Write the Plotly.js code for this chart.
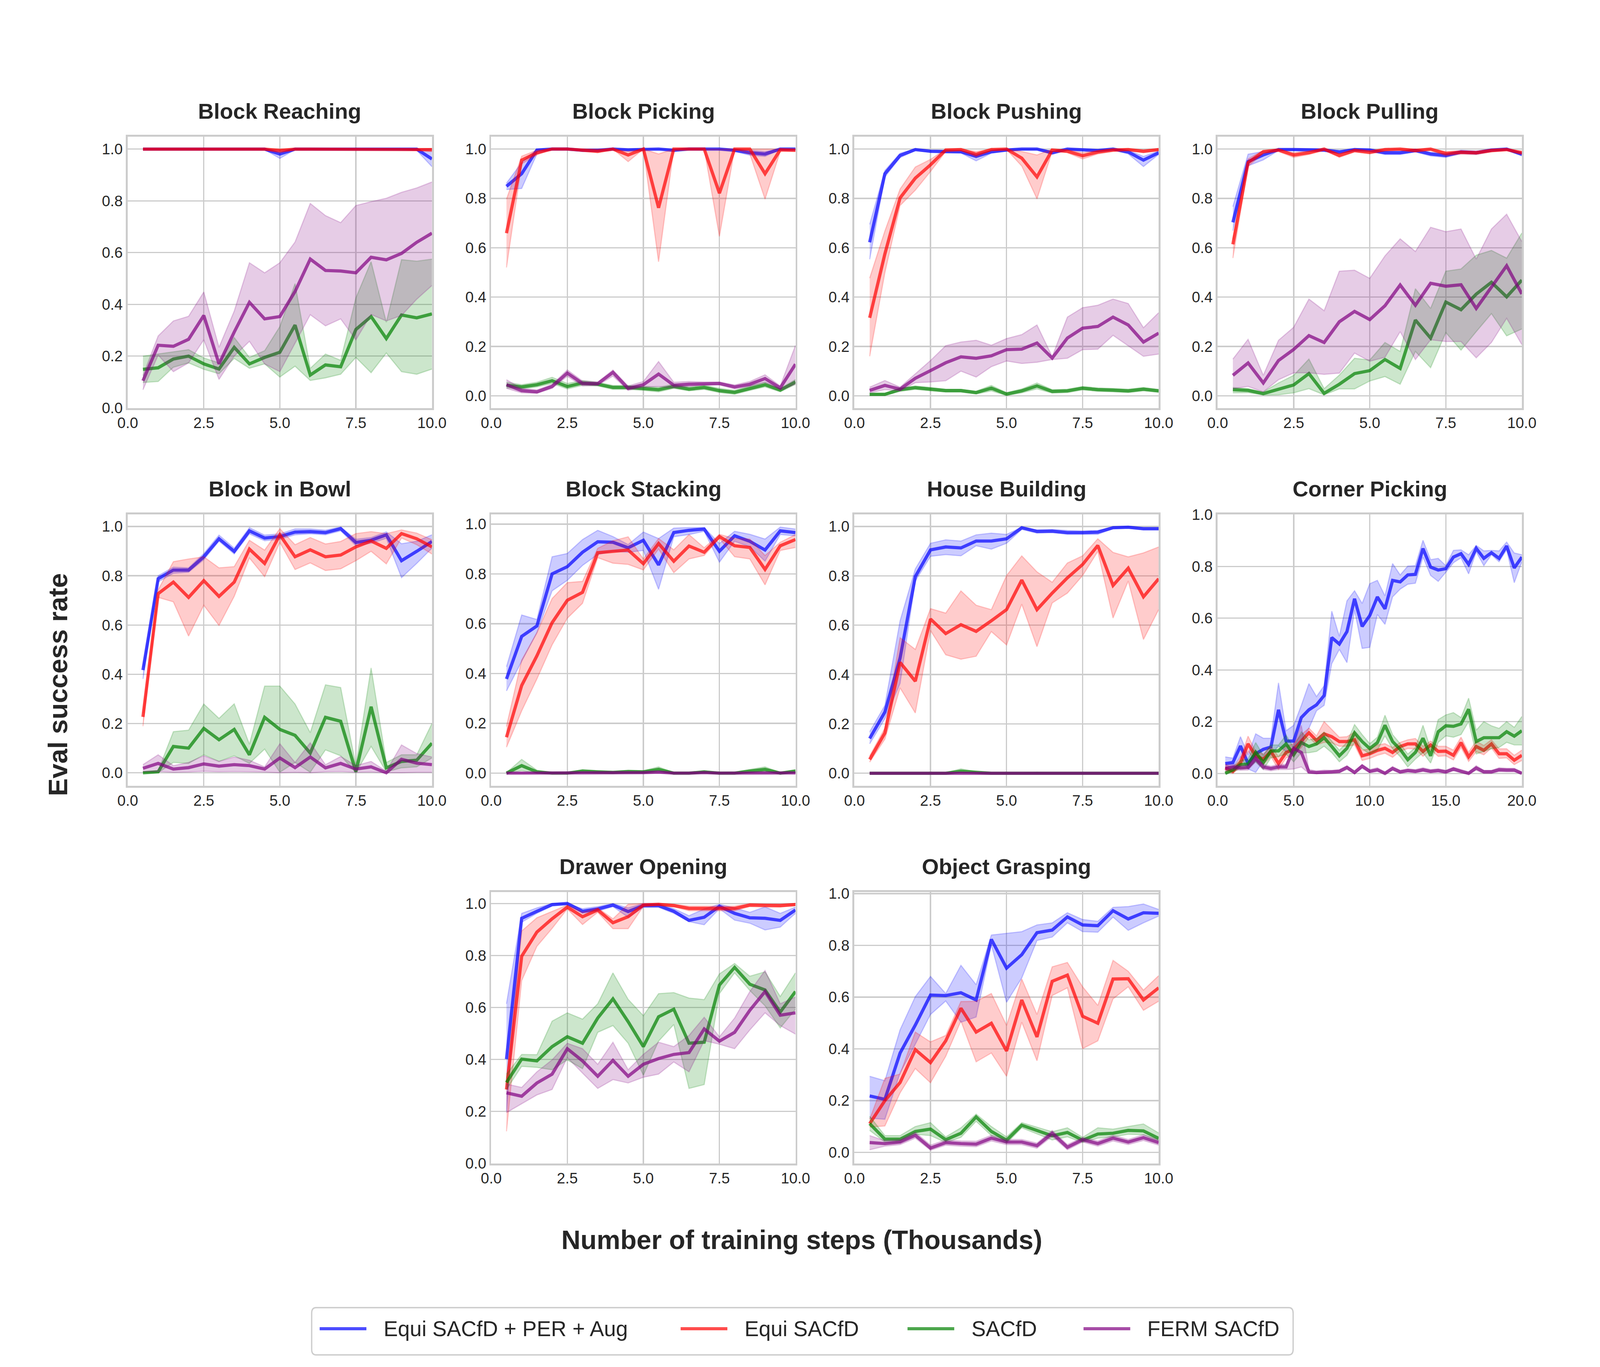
<!DOCTYPE html>
<html><head><meta charset="utf-8">
<script src="https://cdn.plot.ly/plotly-3.0.1.min.js"></script>
<style>html,body{margin:0;padding:0;background:#fff;overflow:hidden}</style>
</head><body><div id="chart"></div>
<script>
const methods = ['Equi SACfD + PER + Aug', 'Equi SACfD', 'SACfD', 'FERM SACfD'];
const lineColors = ['rgba(0,0,255,0.7)', 'rgba(255,0,0,0.7)', 'rgba(0,128,0,0.7)', 'rgba(128,0,128,0.7)'];
const bandColors = ['rgba(0,0,255,0.2)', 'rgba(255,0,0,0.2)', 'rgba(0,128,0,0.2)', 'rgba(128,0,128,0.2)'];
const taskTitles = ['Block Reaching', 'Block Picking', 'Block Pushing', 'Block Pulling', 'Block in Bowl', 'Block Stacking', 'House Building', 'Corner Picking', 'Drawer Opening', 'Object Grasping'];
const steps10 = [0.5,1.0,1.5,2.0,2.5,3.0,3.5,4.0,4.5,5.0,5.5,6.0,6.5,7.0,7.5,8.0,8.5,9.0,9.5,10.0];
const steps20 = [0.5,1.0,1.5,2.0,2.5,3.0,3.5,4.0,4.5,5.0,5.5,6.0,6.5,7.0,7.5,8.0,8.5,9.0,9.5,10.0,10.5,11.0,11.5,12.0,12.5,13.0,13.5,14.0,14.5,15.0,15.5,16.0,16.5,17.0,17.5,18.0,18.5,19.0,19.5,20.0];

// Block Reaching
const reach_per_m  = [1,1,1,1,1,1,1,1,1,0.981,1,1,1,1,1,1,1,1,1,0.962];
const reach_per_hi = [1,1,1,1,1,1,1,1,1,0.995,1,1,1,1,1,1,1,1,1,1];
const reach_per_lo = [1,1,1,1,1,1,1,1,0.998,0.964,0.998,1,1,1,1,1,1,1,0.995,0.932];
const reach_equi_m  = [1,1,1,1,1,1,1,1,1,0.995,1,1,1,1,1,1,1,1,1,0.998];
const reach_equi_hi = [1,1,1,1,1,1,1,1,1,1,1,1,1,1,1,1,1,1,1,1.003];
const reach_equi_lo = [1,1,1,1,1,1,1,1,0.998,0.985,0.998,1,1,1,1,1,1,1,0.995,0.99];
const reach_sac_m  = [0.149,0.155,0.189,0.2,0.17,0.15,0.234,0.17,0.195,0.215,0.32,0.127,0.166,0.159,0.303,0.353,0.268,0.359,0.348,0.363];
const reach_sac_hi = [0.2,0.208,0.217,0.225,0.193,0.174,0.272,0.195,0.221,0.314,0.48,0.153,0.208,0.184,0.425,0.565,0.331,0.573,0.567,0.575];
const reach_sac_lo = [0.098,0.102,0.157,0.174,0.149,0.132,0.191,0.153,0.17,0.119,0.161,0.106,0.116,0.13,0.195,0.136,0.212,0.14,0.13,0.15];
const reach_ferm_m  = [0.105,0.242,0.238,0.265,0.357,0.17,0.293,0.408,0.344,0.353,0.45,0.575,0.531,0.529,0.522,0.582,0.572,0.597,0.64,0.675];
const reach_ferm_hi = [0.125,0.278,0.336,0.354,0.448,0.234,0.374,0.561,0.522,0.561,0.641,0.79,0.743,0.716,0.782,0.797,0.81,0.833,0.85,0.873];
const reach_ferm_lo = [0.07,0.204,0.14,0.174,0.263,0.11,0.2,0.257,0.17,0.14,0.25,0.36,0.317,0.344,0.263,0.361,0.336,0.357,0.42,0.473];

// Block Picking
const pick_per_m  = [0.849,0.9,0.996,1,1,0.995,0.995,1,0.997,1,1,0.995,1,1,1,0.995,0.985,0.98,1,1];
const pick_per_hi = [0.862,0.945,1,1,1,1,1,1,1,1,1,1,1,1,1,1,0.995,0.99,1,1];
const pick_per_lo = [0.836,0.84,0.98,0.998,0.998,0.99,0.99,0.998,0.993,0.998,0.998,0.99,0.998,0.998,0.998,0.99,0.975,0.97,0.998,0.998];
const pick_equi_m  = [0.659,0.955,0.985,1,1,0.995,0.991,1,0.976,1,0.762,1,1,1,0.821,1,1,0.9,0.997,0.995];
const pick_equi_hi = [0.797,0.971,0.995,1,1,1,1,1,0.99,1,0.98,1,1,1,1,1,1,1,1,1];
const pick_equi_lo = [0.52,0.94,0.976,1,1,0.99,0.985,1,0.949,1,0.543,1,1,1,0.646,1,0.98,0.797,0.99,0.99];
const pick_sac_m  = [0.043,0.036,0.045,0.061,0.038,0.052,0.047,0.034,0.034,0.03,0.025,0.038,0.027,0.034,0.021,0.014,0.03,0.045,0.023,0.056];
const pick_sac_hi = [0.055,0.045,0.055,0.075,0.05,0.062,0.055,0.042,0.042,0.038,0.035,0.047,0.036,0.043,0.03,0.022,0.04,0.055,0.03,0.066];
const pick_sac_lo = [0.032,0.028,0.036,0.05,0.028,0.042,0.04,0.026,0.026,0.022,0.016,0.03,0.02,0.026,0.013,0.006,0.022,0.036,0.016,0.046];
const pick_ferm_m  = [0.045,0.021,0.016,0.038,0.092,0.05,0.049,0.095,0.03,0.045,0.088,0.043,0.047,0.05,0.05,0.036,0.047,0.07,0.032,0.128];
const pick_ferm_hi = [0.065,0.03,0.024,0.046,0.105,0.06,0.056,0.105,0.04,0.058,0.139,0.055,0.058,0.056,0.056,0.044,0.058,0.085,0.04,0.204];
const pick_ferm_lo = [0.03,0.012,0.01,0.03,0.079,0.04,0.042,0.08,0.022,0.035,0.038,0.032,0.038,0.044,0.044,0.028,0.038,0.055,0.024,0.047];

// Block Pushing
const push_per_m  = [0.622,0.9,0.974,0.998,0.991,0.989,0.989,0.97,0.989,0.996,1,1,0.985,1,0.996,0.994,1,0.988,0.955,0.985];
const push_per_hi = [0.695,0.913,0.983,1,0.996,0.994,0.994,0.98,0.995,1,1,1,0.992,1,1,0.998,1,0.995,0.97,0.992];
const push_per_lo = [0.553,0.887,0.965,0.994,0.986,0.984,0.984,0.952,0.983,0.992,0.996,0.996,0.978,0.996,0.992,0.99,0.996,0.98,0.929,0.978];
const push_equi_m  = [0.316,0.575,0.802,0.882,0.936,0.996,0.998,0.979,0.998,1,0.963,0.887,0.996,0.991,0.973,0.988,0.996,0.998,0.991,0.998];
const push_equi_hi = [0.477,0.668,0.838,0.927,0.958,1,1,0.99,1,1,0.99,0.976,1,0.997,0.985,0.995,1,1,0.997,1];
const push_equi_lo = [0.16,0.499,0.771,0.833,0.909,0.99,0.994,0.968,0.994,0.998,0.931,0.798,0.99,0.985,0.96,0.98,0.99,0.994,0.985,0.994];
const push_sac_m  = [0.006,0.006,0.025,0.033,0.027,0.021,0.021,0.013,0.031,0.007,0.02,0.04,0.018,0.02,0.031,0.025,0.023,0.02,0.027,0.02];
const push_sac_hi = [0.01,0.01,0.032,0.04,0.034,0.027,0.027,0.019,0.042,0.013,0.028,0.052,0.025,0.027,0.038,0.032,0.03,0.027,0.034,0.026];
const push_sac_lo = [0.002,0.002,0.018,0.026,0.02,0.015,0.015,0.007,0.02,0.001,0.012,0.028,0.011,0.013,0.024,0.018,0.016,0.013,0.02,0.014];
const push_ferm_m  = [0.022,0.042,0.027,0.071,0.102,0.134,0.158,0.152,0.162,0.187,0.189,0.214,0.153,0.234,0.274,0.281,0.319,0.287,0.218,0.254];
const push_ferm_hi = [0.035,0.062,0.035,0.089,0.143,0.203,0.218,0.225,0.205,0.232,0.248,0.287,0.159,0.319,0.357,0.367,0.392,0.374,0.276,0.337];
const push_ferm_lo = [0.012,0.025,0.02,0.053,0.056,0.061,0.1,0.076,0.118,0.141,0.131,0.136,0.147,0.152,0.187,0.189,0.245,0.202,0.16,0.169];

// Block Pulling
const pull_per_m  = [0.703,0.949,0.976,0.998,0.998,0.996,0.996,0.988,0.998,0.996,0.985,0.985,0.994,0.98,0.974,0.988,0.985,0.996,1,0.979];
const pull_per_hi = [0.767,0.979,0.99,1,1,1,1,0.995,1,1,0.992,0.992,1,0.987,0.982,0.995,0.992,1,1,0.986];
const pull_per_lo = [0.669,0.932,0.956,0.994,0.994,0.99,0.99,0.98,0.994,0.99,0.978,0.978,0.988,0.972,0.966,0.981,0.978,0.99,0.995,0.972];
const pull_equi_m  = [0.614,0.945,0.989,0.996,0.976,0.985,1,0.974,0.994,0.987,0.998,1,0.994,1,0.982,0.987,0.985,0.994,0.998,0.985];
const pull_equi_hi = [0.634,0.96,0.995,1,0.985,0.992,1,0.982,1,0.994,1,1,1,1,0.99,0.994,0.992,1,1,0.992];
const pull_equi_lo = [0.558,0.93,0.982,0.99,0.966,0.978,0.995,0.966,0.988,0.98,0.992,0.995,0.988,0.994,0.972,0.98,0.978,0.988,0.993,0.978];
const pull_sac_m  = [0.025,0.022,0.009,0.025,0.044,0.09,0.01,0.047,0.09,0.102,0.147,0.111,0.307,0.234,0.38,0.349,0.412,0.46,0.401,0.469];
const pull_sac_hi = [0.034,0.029,0.016,0.052,0.083,0.149,0.029,0.084,0.152,0.145,0.216,0.18,0.434,0.354,0.505,0.514,0.57,0.589,0.558,0.66];
const pull_sac_lo = [0.012,0.013,0.003,0.004,0.012,0.029,0.004,0.028,0.028,0.06,0.078,0.047,0.18,0.114,0.256,0.185,0.26,0.333,0.243,0.271];
const pull_ferm_m  = [0.083,0.133,0.052,0.143,0.188,0.244,0.216,0.3,0.342,0.309,0.365,0.449,0.367,0.456,0.444,0.45,0.354,0.443,0.527,0.413];
const pull_ferm_hi = [0.149,0.229,0.083,0.225,0.278,0.392,0.345,0.505,0.509,0.476,0.567,0.636,0.585,0.683,0.665,0.676,0.554,0.676,0.736,0.625];
const pull_ferm_lo = [0.029,0.038,0.016,0.065,0.093,0.093,0.087,0.092,0.173,0.14,0.156,0.26,0.147,0.227,0.22,0.22,0.154,0.216,0.314,0.207];

// Block in Bowl
const bowl_per_m  = [0.417,0.788,0.823,0.823,0.877,0.95,0.899,0.982,0.953,0.959,0.977,0.979,0.975,0.991,0.935,0.944,0.966,0.861,0.899,0.939];
const bowl_per_hi = [0.43,0.8,0.835,0.832,0.89,0.965,0.912,0.995,0.965,0.97,0.99,0.99,0.985,0.998,0.948,0.955,0.978,0.93,0.94,0.966];
const bowl_per_lo = [0.381,0.775,0.81,0.814,0.865,0.94,0.888,0.97,0.942,0.948,0.966,0.97,0.966,0.982,0.922,0.932,0.952,0.792,0.85,0.912];
const bowl_equi_m  = [0.227,0.727,0.774,0.712,0.78,0.716,0.774,0.908,0.85,0.966,0.877,0.905,0.877,0.884,0.917,0.941,0.911,0.971,0.95,0.917];
const bowl_equi_hi = [0.243,0.743,0.857,0.868,0.877,0.832,0.837,0.944,0.904,0.991,0.926,0.955,0.929,0.939,0.971,0.979,0.971,0.986,0.973,0.946];
const bowl_equi_lo = [0.189,0.712,0.694,0.555,0.68,0.598,0.716,0.872,0.796,0.935,0.825,0.852,0.821,0.828,0.861,0.899,0.848,0.953,0.926,0.888];
const bowl_sac_m  = [0,0.004,0.107,0.1,0.18,0.134,0.176,0.073,0.225,0.176,0.152,0.08,0.225,0.209,0.004,0.268,0.02,0.046,0.051,0.12];
const bowl_sac_hi = [0.003,0.008,0.167,0.173,0.279,0.221,0.28,0.116,0.352,0.352,0.279,0.163,0.357,0.346,0.029,0.426,0.042,0.073,0.073,0.2];
const bowl_sac_lo = [0,0,0.042,0.038,0.073,0.046,0.069,0.038,0.096,0.002,0.042,0.002,0.093,0.069,0,0.107,0.004,0.02,0.024,0.06];
const bowl_ferm_m  = [0.018,0.038,0.015,0.021,0.036,0.027,0.033,0.029,0.015,0.06,0.021,0.064,0.02,0.038,0.015,0.024,0,0.055,0.039,0.033];
const bowl_ferm_hi = [0.033,0.073,0.029,0.042,0.069,0.046,0.064,0.051,0.024,0.118,0.042,0.122,0.033,0.066,0.029,0.046,0.006,0.113,0.078,0.064];
const bowl_ferm_lo = [0.005,0.005,0.002,0.003,0.006,0.004,0.005,0.004,0.003,0,0.002,0,0.004,0.005,0.002,0.003,0,0,0.002,0.002];

// Block Stacking
const stack_per_m  = [0.378,0.549,0.591,0.8,0.829,0.887,0.929,0.927,0.905,0.935,0.836,0.966,0.975,0.98,0.891,0.953,0.931,0.896,0.973,0.966];
const stack_per_hi = [0.427,0.635,0.617,0.869,0.882,0.938,0.975,0.95,0.918,0.968,0.942,0.984,0.986,0.986,0.922,0.971,0.959,0.94,0.988,0.98];
const stack_per_lo = [0.33,0.449,0.564,0.732,0.774,0.834,0.878,0.891,0.887,0.894,0.738,0.949,0.958,0.971,0.847,0.931,0.909,0.851,0.958,0.953];
const stack_equi_m  = [0.144,0.352,0.471,0.604,0.694,0.726,0.885,0.891,0.896,0.841,0.922,0.851,0.912,0.887,0.95,0.913,0.906,0.818,0.913,0.938];
const stack_equi_hi = [0.188,0.454,0.564,0.701,0.765,0.77,0.903,0.933,0.949,0.86,0.942,0.897,0.958,0.905,0.959,0.942,0.94,0.874,0.927,0.958];
const stack_equi_lo = [0.104,0.25,0.378,0.515,0.622,0.682,0.865,0.843,0.838,0.816,0.9,0.805,0.86,0.874,0.942,0.869,0.86,0.756,0.894,0.906];
const stack_sac_m  = [0,0.03,0.005,0,0,0.008,0.005,0.003,0.006,0.005,0.015,0,0,0.005,0,0,0.008,0.015,0,0.008];
const stack_sac_hi = [0.002,0.055,0.012,0.002,0.002,0.014,0.01,0.007,0.012,0.01,0.025,0.002,0.002,0.01,0.002,0.004,0.015,0.025,0.003,0.014];
const stack_sac_lo = [0,0.01,0,0,0,0.002,0,0,0,0,0.005,0,0,0,0,0,0.002,0.006,0,0.002];
const stack_ferm_m  = [0,0,0,0,0,0.002,0.002,0.002,0.002,0.002,0.004,0,0,0.002,0,0,0.002,0.003,0,0.001];
const stack_ferm_hi = [0.002,0.002,0.002,0.002,0.002,0.005,0.005,0.004,0.004,0.004,0.008,0.002,0.002,0.004,0.002,0.002,0.004,0.006,0.002,0.003];
const stack_ferm_lo = [0,0,0,0,0,0,0,0,0,0,0,0,0,0,0,0,0,0,0,0];

// House Building
const house_per_m  = [0.141,0.248,0.467,0.797,0.905,0.917,0.913,0.941,0.941,0.95,0.995,0.98,0.981,0.975,0.975,0.977,0.995,0.997,0.991,0.991];
const house_per_hi = [0.168,0.275,0.618,0.828,0.932,0.946,0.941,0.966,0.973,0.968,0.997,0.986,0.988,0.984,0.982,0.984,0.997,1,0.995,0.995];
const house_per_lo = [0.119,0.221,0.364,0.779,0.879,0.886,0.881,0.922,0.908,0.932,0.988,0.973,0.975,0.968,0.968,0.968,0.991,0.993,0.986,0.986];
const house_equi_m  = [0.056,0.163,0.449,0.373,0.625,0.566,0.602,0.575,0.618,0.663,0.783,0.663,0.73,0.792,0.846,0.923,0.761,0.831,0.715,0.788];
const house_equi_hi = [0.07,0.183,0.549,0.502,0.667,0.649,0.739,0.681,0.663,0.801,0.881,0.816,0.774,0.852,0.881,0.95,0.895,0.877,0.893,0.917];
const house_equi_lo = [0.045,0.138,0.346,0.244,0.578,0.48,0.462,0.474,0.574,0.52,0.685,0.513,0.69,0.73,0.801,0.899,0.629,0.779,0.542,0.663];
const house_sac_m  = [0,0,0,0,0,0,0.008,0.003,0,0,0,0.002,0,0,0,0,0,0,0,0];
const house_sac_hi = [0,0,0,0,0,0.002,0.018,0.006,0.001,0,0,0.004,0,0,0,0,0,0,0,0];
const house_sac_lo = [0,0,0,0,0,0,0,0,0,0,0,0,0,0,0,0,0,0,0,0];
const house_ferm_m  = [0,0,0,0,0,0,0.002,0,0,0,0,0,0,0,0,0,0,0,0,0];
const house_ferm_hi = [0,0,0,0,0,0,0.005,0.001,0,0,0,0,0,0,0,0,0,0,0,0];
const house_ferm_lo = [0,0,0,0,0,0,0,0,0,0,0,0,0,0,0,0,0,0,0,0];

// Corner Picking (20k steps)
const corner_per_m  = [0.038,0.042,0.106,0.038,0.076,0.093,0.102,0.246,0.125,0.125,0.216,0.246,0.265,0.301,0.525,0.5,0.548,0.675,0.568,0.61,0.682,0.636,0.746,0.74,0.767,0.769,0.869,0.797,0.786,0.791,0.836,0.849,0.808,0.87,0.831,0.853,0.831,0.879,0.794,0.836];
const corner_per_hi = [0.064,0.059,0.142,0.072,0.153,0.136,0.136,0.35,0.165,0.186,0.263,0.347,0.297,0.339,0.627,0.53,0.667,0.706,0.657,0.733,0.746,0.686,0.811,0.767,0.801,0.803,0.901,0.826,0.831,0.803,0.862,0.864,0.845,0.881,0.86,0.862,0.86,0.894,0.852,0.845];
const corner_per_lo = [0.021,0.025,0.064,0.017,0.004,0.047,0.072,0.106,0.085,0.076,0.123,0.174,0.242,0.263,0.424,0.479,0.428,0.631,0.483,0.487,0.614,0.576,0.682,0.712,0.731,0.735,0.836,0.765,0.742,0.777,0.814,0.833,0.771,0.856,0.803,0.845,0.818,0.864,0.737,0.818];
const corner_equi_m  = [0.021,0.008,0.042,0.114,0.068,0.055,0.085,0.038,0.081,0.093,0.125,0.157,0.127,0.153,0.142,0.123,0.123,0.13,0.068,0.076,0.089,0.097,0.081,0.104,0.114,0.114,0.085,0.11,0.085,0.086,0.07,0.119,0.064,0.104,0.089,0.114,0.076,0.076,0.051,0.07];
const corner_equi_hi = [0.035,0.02,0.06,0.144,0.085,0.075,0.105,0.065,0.105,0.115,0.15,0.175,0.145,0.2,0.17,0.14,0.142,0.16,0.09,0.095,0.11,0.115,0.1,0.12,0.13,0.135,0.105,0.125,0.105,0.105,0.09,0.14,0.082,0.125,0.108,0.13,0.095,0.095,0.07,0.09];
const corner_equi_lo = [0.008,0,0.025,0.085,0.05,0.035,0.065,0.015,0.06,0.07,0.1,0.14,0.11,0.12,0.118,0.105,0.105,0.11,0.05,0.058,0.07,0.078,0.062,0.086,0.096,0.094,0.066,0.092,0.066,0.068,0.052,0.1,0.046,0.084,0.072,0.098,0.058,0.06,0.034,0.05];
const corner_sac_m  = [0,0.014,0.034,0.036,0.082,0.042,0.087,0.087,0.114,0.072,0.119,0.104,0.114,0.138,0.104,0.068,0.097,0.157,0.123,0.096,0.119,0.186,0.123,0.093,0.053,0.081,0.136,0.068,0.161,0.184,0.182,0.191,0.248,0.123,0.138,0.138,0.138,0.161,0.144,0.165];
const corner_sac_hi = [0.008,0.025,0.05,0.055,0.119,0.07,0.11,0.11,0.148,0.1,0.161,0.13,0.135,0.16,0.125,0.09,0.12,0.189,0.15,0.115,0.14,0.225,0.15,0.115,0.075,0.1,0.186,0.095,0.208,0.226,0.235,0.216,0.291,0.167,0.2,0.184,0.174,0.2,0.178,0.22];
const corner_sac_lo = [0,0.005,0.02,0.02,0.045,0.015,0.06,0.065,0.075,0.045,0.08,0.08,0.085,0.105,0.08,0.045,0.07,0.12,0.095,0.075,0.09,0.145,0.095,0.065,0.025,0.055,0.08,0.04,0.12,0.145,0.14,0.15,0.2,0.075,0.085,0.095,0.1,0.12,0.11,0.11];
const corner_ferm_m  = [0.019,0.025,0.021,0.023,0.057,0.025,0.019,0.025,0.025,0.097,0.081,0.006,0.003,0.006,0.006,0.008,0.023,0.003,0.028,0.008,0.014,0,0.019,0.006,0.011,0.008,0.014,0.008,0.011,0.006,0.017,0.008,0,0.021,0.006,0.006,0.014,0.013,0.013,0];
const corner_ferm_hi = [0.03,0.035,0.03,0.033,0.07,0.035,0.028,0.035,0.035,0.106,0.186,0.015,0.01,0.013,0.012,0.015,0.03,0.01,0.035,0.015,0.022,0.006,0.027,0.012,0.018,0.015,0.022,0.015,0.018,0.012,0.024,0.015,0.006,0.03,0.012,0.012,0.022,0.02,0.02,0.006];
const corner_ferm_lo = [0.01,0.015,0.012,0.013,0.045,0.015,0.01,0.015,0.015,0.017,0.025,0,0,0,0,0.002,0.015,0,0.02,0.002,0.007,0,0.012,0,0.005,0.002,0.007,0.002,0.005,0,0.01,0.002,0,0.012,0,0,0.007,0.006,0.006,0];

// Drawer Opening
const drawer_per_m  = [0.401,0.943,0.97,0.996,1,0.97,0.979,0.994,0.969,0.992,0.992,0.97,0.935,0.947,0.989,0.962,0.945,0.943,0.935,0.975];
const drawer_per_hi = [0.614,0.962,0.983,1,1,0.98,0.988,1,0.983,1,1,0.98,0.953,0.979,0.997,0.983,0.966,0.987,0.962,0.986];
const drawer_per_lo = [0.2,0.928,0.962,0.99,0.995,0.962,0.97,0.988,0.947,0.985,0.985,0.962,0.93,0.918,0.98,0.936,0.924,0.898,0.909,0.962];
const drawer_equi_m  = [0.284,0.797,0.89,0.941,0.986,0.949,0.975,0.926,0.949,0.994,0.997,0.992,0.981,0.981,0.981,0.981,0.994,0.992,0.992,0.996];
const drawer_equi_hi = [0.326,0.894,0.945,0.97,0.994,0.966,0.983,0.941,0.997,1,1,0.997,0.99,0.99,0.99,0.99,1,0.998,0.998,1];
const drawer_equi_lo = [0.123,0.703,0.835,0.904,0.979,0.919,0.966,0.903,0.903,0.989,0.993,0.987,0.972,0.972,0.972,0.972,0.988,0.986,0.986,0.992];
const drawer_sac_m  = [0.311,0.401,0.394,0.449,0.487,0.462,0.559,0.633,0.545,0.449,0.564,0.593,0.462,0.466,0.686,0.754,0.689,0.667,0.582,0.661];
const drawer_sac_hi = [0.343,0.419,0.418,0.547,0.579,0.555,0.614,0.733,0.631,0.568,0.653,0.657,0.636,0.63,0.729,0.769,0.72,0.737,0.642,0.733];
const drawer_sac_lo = [0.284,0.373,0.369,0.36,0.398,0.364,0.504,0.53,0.462,0.339,0.47,0.534,0.288,0.303,0.653,0.733,0.665,0.606,0.521,0.593];
const drawer_ferm_m  = [0.271,0.258,0.309,0.343,0.441,0.394,0.335,0.396,0.335,0.381,0.403,0.419,0.426,0.517,0.47,0.504,0.589,0.661,0.57,0.579];
const drawer_ferm_hi = [0.305,0.292,0.352,0.398,0.462,0.441,0.381,0.466,0.36,0.419,0.466,0.449,0.492,0.562,0.487,0.559,0.661,0.742,0.614,0.64];
const drawer_ferm_lo = [0.195,0.229,0.263,0.284,0.407,0.347,0.288,0.322,0.309,0.331,0.343,0.39,0.352,0.472,0.458,0.441,0.513,0.579,0.53,0.497];

// Object Grasping
const grasp_per_m  = [0.218,0.205,0.384,0.492,0.608,0.606,0.617,0.589,0.823,0.712,0.764,0.849,0.859,0.91,0.879,0.876,0.934,0.902,0.926,0.924];
const grasp_per_hi = [0.294,0.277,0.474,0.602,0.68,0.614,0.723,0.648,0.84,0.847,0.853,0.879,0.887,0.926,0.9,0.893,0.947,0.95,0.96,0.939];
const grasp_per_lo = [0.132,0.128,0.307,0.418,0.533,0.585,0.503,0.523,0.802,0.58,0.674,0.819,0.832,0.887,0.853,0.851,0.909,0.858,0.887,0.913];
const grasp_equi_m  = [0.111,0.2,0.27,0.397,0.347,0.431,0.557,0.465,0.499,0.392,0.589,0.446,0.661,0.685,0.526,0.499,0.67,0.671,0.589,0.636];
const grasp_equi_hi = [0.128,0.286,0.303,0.465,0.427,0.452,0.583,0.584,0.614,0.491,0.67,0.533,0.717,0.734,0.64,0.568,0.742,0.7,0.627,0.683];
const grasp_equi_lo = [0.098,0.102,0.23,0.324,0.269,0.371,0.508,0.35,0.384,0.294,0.503,0.354,0.606,0.636,0.401,0.431,0.593,0.64,0.549,0.584];
const grasp_sac_m  = [0.111,0.051,0.051,0.081,0.09,0.049,0.074,0.137,0.081,0.047,0.105,0.085,0.064,0.077,0.047,0.071,0.074,0.085,0.083,0.054];
const grasp_sac_hi = [0.14,0.065,0.065,0.1,0.115,0.06,0.095,0.148,0.1,0.06,0.115,0.098,0.08,0.095,0.058,0.095,0.09,0.1,0.11,0.075];
const grasp_sac_lo = [0.085,0.04,0.038,0.07,0.065,0.038,0.058,0.12,0.065,0.035,0.095,0.072,0.048,0.06,0.038,0.055,0.06,0.07,0.068,0.045];
const grasp_ferm_m  = [0.038,0.034,0.04,0.066,0.017,0.038,0.034,0.032,0.055,0.04,0.04,0.026,0.074,0.02,0.049,0.034,0.055,0.04,0.057,0.038];
const grasp_ferm_hi = [0.065,0.045,0.05,0.078,0.028,0.048,0.044,0.043,0.066,0.05,0.05,0.036,0.085,0.03,0.058,0.044,0.066,0.05,0.068,0.048];
const grasp_ferm_lo = [0.01,0.024,0.03,0.055,0.008,0.028,0.024,0.022,0.044,0.03,0.03,0.016,0.062,0.01,0.04,0.024,0.044,0.03,0.046,0.028];

const panels = [
  {x: steps10, xmax: 10, dtick: 2.5, yr: [-0.001, 1.048], s: [[reach_per_m, reach_per_hi, reach_per_lo], [reach_equi_m, reach_equi_hi, reach_equi_lo], [reach_sac_m, reach_sac_hi, reach_sac_lo], [reach_ferm_m, reach_ferm_hi, reach_ferm_lo]]},
  {x: steps10, xmax: 10, dtick: 2.5, yr: [-0.05, 1.05], s: [[pick_per_m, pick_per_hi, pick_per_lo], [pick_equi_m, pick_equi_hi, pick_equi_lo], [pick_sac_m, pick_sac_hi, pick_sac_lo], [pick_ferm_m, pick_ferm_hi, pick_ferm_lo]]},
  {x: steps10, xmax: 10, dtick: 2.5, yr: [-0.05, 1.05], s: [[push_per_m, push_per_hi, push_per_lo], [push_equi_m, push_equi_hi, push_equi_lo], [push_sac_m, push_sac_hi, push_sac_lo], [push_ferm_m, push_ferm_hi, push_ferm_lo]]},
  {x: steps10, xmax: 10, dtick: 2.5, yr: [-0.05, 1.05], s: [[pull_per_m, pull_per_hi, pull_per_lo], [pull_equi_m, pull_equi_hi, pull_equi_lo], [pull_sac_m, pull_sac_hi, pull_sac_lo], [pull_ferm_m, pull_ferm_hi, pull_ferm_lo]]},
  {x: steps10, xmax: 10, dtick: 2.5, yr: [-0.053, 1.049], s: [[bowl_per_m, bowl_per_hi, bowl_per_lo], [bowl_equi_m, bowl_equi_hi, bowl_equi_lo], [bowl_sac_m, bowl_sac_hi, bowl_sac_lo], [bowl_ferm_m, bowl_ferm_hi, bowl_ferm_lo]]},
  {x: steps10, xmax: 10, dtick: 2.5, yr: [-0.051, 1.039], s: [[stack_per_m, stack_per_hi, stack_per_lo], [stack_equi_m, stack_equi_hi, stack_equi_lo], [stack_sac_m, stack_sac_hi, stack_sac_lo], [stack_ferm_m, stack_ferm_hi, stack_ferm_lo]]},
  {x: steps10, xmax: 10, dtick: 2.5, yr: [-0.051, 1.049], s: [[house_per_m, house_per_hi, house_per_lo], [house_equi_m, house_equi_hi, house_equi_lo], [house_sac_m, house_sac_hi, house_sac_lo], [house_ferm_m, house_ferm_hi, house_ferm_lo]]},
  {x: steps20, xmax: 20, dtick: 5, yr: [-0.048, 1.001], s: [[corner_per_m, corner_per_hi, corner_per_lo], [corner_equi_m, corner_equi_hi, corner_equi_lo], [corner_sac_m, corner_sac_hi, corner_sac_lo], [corner_ferm_m, corner_ferm_hi, corner_ferm_lo]]},
  {x: steps10, xmax: 10, dtick: 2.5, yr: [-0.001, 1.044], s: [[drawer_per_m, drawer_per_hi, drawer_per_lo], [drawer_equi_m, drawer_equi_hi, drawer_equi_lo], [drawer_sac_m, drawer_sac_hi, drawer_sac_lo], [drawer_ferm_m, drawer_ferm_hi, drawer_ferm_lo]]},
  {x: steps10, xmax: 10, dtick: 2.5, yr: [-0.043, 1.006], s: [[grasp_per_m, grasp_per_hi, grasp_per_lo], [grasp_equi_m, grasp_equi_hi, grasp_equi_lo], [grasp_sac_m, grasp_sac_hi, grasp_sac_lo], [grasp_ferm_m, grasp_ferm_hi, grasp_ferm_lo]]}
];

// ---- layout geometry, in reference pixels (5000 x 3500), scaled to the real window ----
const RW = 5000, RH = 3500;
const W = window.innerWidth || RW, H = window.innerHeight || RH;
const S = W / RW;                    // size scale for fonts / widths
const colLeft = [399, 1535, 2670, 3805], plotW = 951;
const rowTop = [350, 1317, 2284], plotH = 695;
const cells = [[0,0],[0,1],[0,2],[0,3],[1,0],[1,1],[1,2],[1,3],[2,1],[2,2]];
const FONT = 'Liberation Sans, Arial, sans-serif';
const TXT = '#262626';
const px = v => v / RW, py = v => 1 - v / RH;

document.getElementById('chart').style.width = W + 'px';
document.getElementById('chart').style.height = H + 'px';

const traces = [];
const layout = {
  width: W, height: H, margin: {l: 0, r: 0, t: 0, b: 0},
  paper_bgcolor: '#ffffff', plot_bgcolor: '#ffffff', showlegend: false,
  font: {family: FONT, color: TXT},
  annotations: [], shapes: []
};

panels.forEach((p, i) => {
  const id = i === 0 ? '' : String(i + 1);
  const [r, c] = cells[i];
  const x0 = colLeft[c], y0 = rowTop[r];
  layout['xaxis' + id] = {
    domain: [px(x0), px(x0 + plotW)], anchor: 'y' + id,
    range: [-0.0002 * p.xmax, p.xmax * 1.0002], tick0: 0, dtick: p.dtick, tickformat: '.1f',
    showgrid: true, gridcolor: '#cccccc', gridwidth: 4 * S, zeroline: false,
    showline: true, mirror: true, linecolor: '#cccccc', linewidth: 6 * S,
    ticks: '', ticklabelstandoff: 10 * S,
    tickfont: {family: FONT, size: 47 * S, color: TXT}
  };
  layout['yaxis' + id] = {
    domain: [py(y0 + plotH), py(y0)], anchor: 'x' + id,
    range: p.yr, tick0: 0, dtick: 0.2, tickformat: '.1f',
    showgrid: true, gridcolor: '#cccccc', gridwidth: 4 * S, zeroline: false,
    showline: true, mirror: true, linecolor: '#cccccc', linewidth: 6 * S,
    ticks: '', ticklabelstandoff: 14 * S,
    tickfont: {family: FONT, size: 47 * S, color: TXT}
  };
  p.s.forEach((ser, k) => {
    const common = {x: p.x, xaxis: 'x' + id, yaxis: 'y' + id, type: 'scatter', mode: 'lines', hoverinfo: 'skip', showlegend: false};
    traces.push(Object.assign({}, common, {y: ser[2], line: {color: bandColors[k], width: 3.5 * S}}));
    traces.push(Object.assign({}, common, {y: ser[1], fill: 'tonexty', fillcolor: bandColors[k], line: {color: bandColors[k], width: 3.5 * S}}));
    traces.push(Object.assign({}, common, {y: ser[0], name: methods[k], line: {color: lineColors[k], width: 10 * S}}));
  });
  layout.annotations.push({
    xref: 'paper', yref: 'paper', x: px(x0 + plotW / 2), y: py(y0 - 65), xanchor: 'center', yanchor: 'middle',
    text: taskTitles[i], showarrow: false, font: {family: FONT, size: 68 * S, color: TXT, weight: 'bold'}
  });
});

// figure-level axis labels
layout.annotations.push({xref: 'paper', yref: 'paper', x: px(2505), y: py(3174), xanchor: 'center', yanchor: 'middle',
  text: 'Number of training steps (Thousands)', showarrow: false, font: {family: FONT, size: 83 * S, color: TXT, weight: 'bold'}});
layout.annotations.push({xref: 'paper', yref: 'paper', x: px(181), y: py(1753), xanchor: 'center', yanchor: 'middle', textangle: -90,
  text: 'Eval success rate', showarrow: false, font: {family: FONT, size: 83 * S, color: TXT, weight: 'bold'}});

// legend box (shapes + text)
const lg = {x0: 974, y0: 3348, x1: 4041, y1: 3469, r: 14};
const rp = (x, y) => px(x).toFixed(6) + ',' + py(y).toFixed(6);
layout.shapes.push({type: 'path', xref: 'paper', yref: 'paper',
  path: 'M' + rp(lg.x0 + lg.r, lg.y0) + ' L' + rp(lg.x1 - lg.r, lg.y0) + ' Q' + rp(lg.x1, lg.y0) + ' ' + rp(lg.x1, lg.y0 + lg.r) +
        ' L' + rp(lg.x1, lg.y1 - lg.r) + ' Q' + rp(lg.x1, lg.y1) + ' ' + rp(lg.x1 - lg.r, lg.y1) +
        ' L' + rp(lg.x0 + lg.r, lg.y1) + ' Q' + rp(lg.x0, lg.y1) + ' ' + rp(lg.x0, lg.y1 - lg.r) +
        ' L' + rp(lg.x0, lg.y0 + lg.r) + ' Q' + rp(lg.x0, lg.y0) + ' ' + rp(lg.x0 + lg.r, lg.y0) + ' Z',
  line: {color: '#cccccc', width: 4 * S}, fillcolor: 'rgba(255,255,255,0.8)', layer: 'above'});
const legendLineStart = [999, 2127, 2836, 3386], legendLineLen = 146, legendY = 3402;
methods.forEach((m, k) => {
  const lx = legendLineStart[k];
  layout.shapes.push({type: 'line', xref: 'paper', yref: 'paper', x0: px(lx), x1: px(lx + legendLineLen), y0: py(legendY), y1: py(legendY),
    line: {color: lineColors[k], width: 10 * S}, layer: 'above'});
  layout.annotations.push({xref: 'paper', yref: 'paper', x: px(lx + 197), y: py(legendY), xanchor: 'left', yanchor: 'middle',
    text: m, showarrow: false, font: {family: FONT, size: 67 * S, color: TXT}});
});

Plotly.newPlot('chart', traces, layout, {staticPlot: true, displayModeBar: false});
</script>
</body></html>
